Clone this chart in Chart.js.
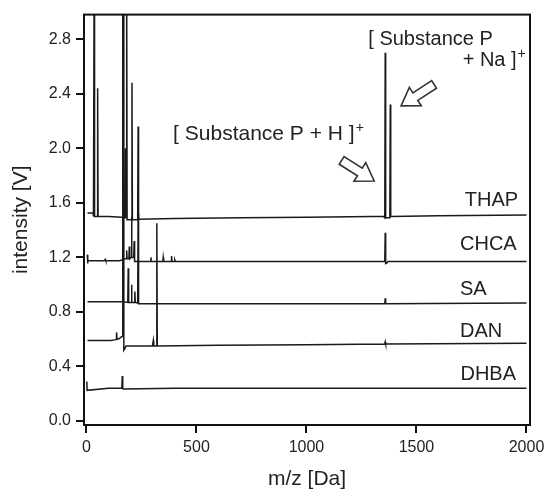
<!DOCTYPE html>
<html>
<head>
<meta charset="utf-8">
<script src="https://cdn.jsdelivr.net/npm/chart.js@4/dist/chart.umd.min.js"></script>
<style>
  html, body { margin: 0; padding: 0; background: #fff; }
  #wrap { width: 554px; height: 493px; position: relative; }
</style>
</head>
<body>
<div id="wrap"><canvas id="spec"></canvas></div>
<script>
// MALDI spectra, stacked with a vertical offset per matrix (m/z in Da, intensity in V)
const thapMz = [5, 30, 31, 33, 35, 37, 49, 51, 53, 100, 160, 162, 164, 166, 174, 176, 178, 181, 183, 185, 205, 207, 209, 233, 235, 237, 400, 700, 1000, 1300, 1350, 1356, 1358, 1360, 1379, 1381, 1383, 1600, 2000];
const thapV  = [1.525, 1.525, 1.55, 1.50, 3.2, 1.50, 1.50, 2.44, 1.50, 1.50, 1.495, 1.495, 3.2, 1.49, 1.49, 2.0, 1.49, 1.49, 3.2, 1.475, 1.475, 2.48, 1.475, 1.475, 2.16, 1.48, 1.485, 1.49, 1.495, 1.50, 1.50, 1.49, 2.70, 1.49, 1.49, 2.32, 1.50, 1.505, 1.51];

const chcaMz = [4, 5, 7, 80, 86, 88, 150, 162, 164, 166, 181, 183, 185, 193, 195, 197, 203, 205, 207, 215, 217, 219, 291, 293, 295, 347, 349, 351, 385, 387, 389, 400, 402, 404, 800, 1356, 1358, 1360, 1366, 1370, 2000];
const chcaV  = [1.22, 1.155, 1.175, 1.175, 1.185, 1.175, 1.175, 1.18, 1.60, 1.19, 1.19, 1.25, 1.19, 1.19, 1.28, 1.19, 1.20, 1.50, 1.20, 1.20, 1.32, 1.17, 1.17, 1.20, 1.17, 1.17, 1.20, 1.17, 1.17, 1.21, 1.17, 1.17, 1.18, 1.17, 1.17, 1.17, 1.38, 1.155, 1.16, 1.17, 1.17];

const saMz = [5, 160, 163, 165, 167, 188, 190, 192, 203, 205, 207, 218, 220, 222, 233, 235, 237, 600, 1000, 1356, 1358, 1360, 2000];
const saV  = [0.875, 0.875, 0.875, 1.30, 0.875, 0.87, 1.12, 0.87, 0.87, 1.0, 0.87, 0.87, 0.95, 0.87, 0.865, 1.52, 0.86, 0.86, 0.86, 0.86, 0.90, 0.86, 0.865];

const danMz = [5, 110, 130, 135, 137, 139, 150, 157, 165, 168, 170, 174, 180, 300, 302, 304, 306, 318, 320, 322, 600, 1000, 1356, 1358, 1360, 2000];
const danV  = [0.59, 0.59, 0.595, 0.60, 0.65, 0.60, 0.605, 0.615, 0.62, 3.2, 0.52, 0.53, 0.55, 0.55, 0.55, 0.59, 0.55, 0.55, 1.45, 0.55, 0.555, 0.56, 0.565, 0.58, 0.565, 0.57];

const dhbaMz = [2, 3, 100, 161, 163, 165, 167, 400, 1000, 2000];
const dhbaV  = [0.29, 0.225, 0.24, 0.24, 0.33, 0.24, 0.235, 0.24, 0.24, 0.24];

const matrixNames = ['THAP', 'CHCA', 'SA', 'DAN', 'DHBA'];
// label anchor (left edge m/z, baseline intensity) for each trace name
const nameMz = [1720, 1698, 1698, 1698, 1700];
const nameV  = [1.578, 1.256, 0.924, 0.613, 0.298];

const xTicks = [0, 500, 1000, 1500, 2000];
const yTicks = [0.0, 0.4, 0.8, 1.2, 1.6, 2.0, 2.4, 2.8];

const seriesMz = [thapMz, chcaMz, saMz, danMz, dhbaMz];
const seriesV  = [thapV, chcaV, saV, danV, dhbaV];

const FONT = '"Liberation Sans", Arial, sans-serif';

function drawArrow(ctx, x0, y0, x1, y1) {
  // open block arrow from (x0,y0) to tip (x1,y1)
  const dx = x1 - x0, dy = y1 - y0;
  const len = Math.hypot(dx, dy);
  const ux = dx / len, uy = dy / len;
  const nx = -uy, ny = ux;
  const shaft = 4.5, head = 11, headLen = 17;
  const bx = x1 - ux * headLen, by = y1 - uy * headLen;
  ctx.beginPath();
  ctx.moveTo(x0 + nx * shaft, y0 + ny * shaft);
  ctx.lineTo(bx + nx * shaft, by + ny * shaft);
  ctx.lineTo(bx + nx * head, by + ny * head);
  ctx.lineTo(x1, y1);
  ctx.lineTo(bx - nx * head, by - ny * head);
  ctx.lineTo(bx - nx * shaft, by - ny * shaft);
  ctx.lineTo(x0 - nx * shaft, y0 - ny * shaft);
  ctx.closePath();
  ctx.fillStyle = '#fff';
  ctx.fill();
  ctx.lineWidth = 1.6;
  ctx.strokeStyle = '#333';
  ctx.stroke();
}

const overlay = {
  id: 'overlay',
  afterDraw(chart) {
    const { ctx, chartArea: a } = chart;
    const xs = chart.scales.x, ys = chart.scales.y;
    const px = v => xs.getPixelForValue(v);
    const py = v => ys.getPixelForValue(v);
    ctx.save();

    // frame
    ctx.lineWidth = 2;
    ctx.strokeStyle = '#111';
    ctx.strokeRect(a.left, a.top, a.right - a.left, a.bottom - a.top);

    // trace names
    ctx.fillStyle = '#222';
    ctx.font = '20px ' + FONT;
    ctx.textBaseline = 'alphabetic';
    ctx.textAlign = 'left';
    matrixNames.forEach((n, i) => ctx.fillText(n, px(nameMz[i]), py(nameV[i])));

    // peak annotations
    ctx.font = '21px ' + FONT;
    let tx = px(394), ty = py(2.063);
    const t1 = '[ Substance P + H ]';
    ctx.fillText(t1, tx, ty);
    let w = ctx.measureText(t1).width;
    ctx.font = '14px ' + FONT;
    ctx.fillText('+', tx + w + 1, ty - 8);

    ctx.font = '20px ' + FONT;
    ctx.fillText('[ Substance P', px(1281), py(2.759));
    ctx.textAlign = 'right';
    ctx.fillText('+ Na ]', px(1955), py(2.601));
    ctx.textAlign = 'left';
    ctx.font = '14px ' + FONT;
    ctx.fillText('+', px(1955) + 1, py(2.601) - 8);

    drawArrow(ctx, px(1160), py(1.911), px(1308), py(1.760));
    drawArrow(ctx, px(1580), py(2.468), px(1430), py(2.311));
    ctx.restore();
  }
};

const datasets = seriesMz.map((mz, i) => ({
  label: matrixNames[i],
  data: mz.map((m, j) => ({ x: m, y: seriesV[i][j] })),
  borderColor: '#1a1a1a',
  borderWidth: 1.5,
  pointRadius: 0,
  tension: 0,
  fill: false
}));

new Chart(document.getElementById('spec'), {
  type: 'line',
  data: { datasets },
  plugins: [overlay],
  options: {
    responsive: true,
    maintainAspectRatio: false,
    animation: false,
    layout: { padding: { left: 0, right: 24, top: 11, bottom: 0 } },
    plugins: { legend: { display: false }, tooltip: { enabled: false } },
    scales: {
      x: {
        type: 'linear',
        min: -11,
        max: 2016,
        afterFit(s) { s.height = 68; },
        afterBuildTicks(s) { s.ticks = xTicks.map(v => ({ value: v })); },
        grid: { display: true, drawOnChartArea: false, drawTicks: true, tickLength: 8, color: '#111', lineWidth: 2 },
        border: { display: true, color: '#111', width: 2 },
        ticks: { color: '#222', padding: 5, maxRotation: 0, font: { size: 16, family: FONT }, callback: v => String(v) },
        title: { display: true, text: 'm/z [Da]', color: '#222', padding: { top: 0, bottom: 1 }, font: { size: 21, family: FONT } }
      },
      y: {
        type: 'linear',
        min: -0.029,
        max: 2.98,
        afterFit(s) { s.width = 84; },
        afterBuildTicks(s) { s.ticks = yTicks.map(v => ({ value: v })); },
        grid: { display: true, drawOnChartArea: false, drawTicks: true, tickLength: 8, color: '#111', lineWidth: 2 },
        border: { display: true, color: '#111', width: 2 },
        ticks: { color: '#222', padding: 5, font: { size: 16, family: FONT }, callback: v => Number(v).toFixed(1) },
        title: { display: true, text: 'intensity [V]', color: '#222', padding: { top: 9, bottom: 0 }, font: { size: 21, family: FONT } }
      }
    }
  }
});
</script>
</body>
</html>
